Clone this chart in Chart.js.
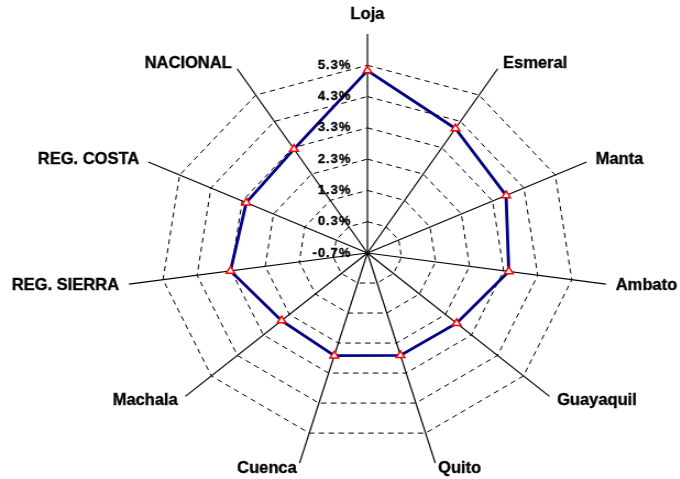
<!DOCTYPE html>
<html>
<head>
<meta charset="utf-8">
<script src="https://cdn.jsdelivr.net/npm/chart.js@4/dist/chart.umd.min.js"></script>
<style>
  html, body { margin: 0; padding: 0; background: #fff; overflow: hidden; }
  #wrap { width: 618px; height: 479px; transform: scaleX(1.1); transform-origin: 0 0; }
</style>
</head>
<body>
<div id="wrap"><canvas id="radar"></canvas></div>
<script>
// cities / regions, clockwise from the top
var categories = ['Loja', 'Esmeral', 'Manta', 'Ambato', 'Guayaquil', 'Quito',
                  'Cuenca', 'Machala', 'REG. SIERRA', 'REG. COSTA', 'NACIONAL'];
var values = [5.13, 4.03, 3.73, 3.45, 2.73, 2.71, 2.72, 2.60, 3.32, 3.17, 3.25];
var tickLabels = ['-0.7%', '0.3%', '1.3%', '2.3%', '3.3%', '4.3%', '5.3%'];

var STRETCH = 1.1; // the original plot is a bit wider than tall
var FONT = "'Liberation Sans', Arial, sans-serif";

// draws category and tick labels without the horizontal stretch
var labelPlugin = {
    id: 'labels',
    afterDraw: function (chart) {
        var ctx = chart.ctx;
        var r = chart.scales.r;
        var n = chart.data.labels.length;

        ctx.save();
        ctx.fillStyle = '#000';
        ctx.strokeStyle = '#000';
        ctx.lineWidth = 0.35;
        ctx.textBaseline = 'middle';
        ctx.font = 'bold 16.5px ' + FONT;
        for (var i = 0; i < n; i++) {
            var p = r.getPointPosition(i, r.drawingArea);
            var a = i * 2 * Math.PI / n;
            var s = Math.sin(a), c = Math.cos(a);
            var align = s > 0.05 ? 'left' : (s < -0.05 ? 'right' : 'center');
            var dy = Math.abs(s) < 0.05 ? -c * 20 : -c * 6;
            ctx.save();
            ctx.translate(p.x + s * 10 / STRETCH, p.y + dy);
            ctx.scale(1 / STRETCH, 1);
            ctx.textAlign = align;
            ctx.fillText(chart.data.labels[i], 0, 0);
            ctx.strokeText(chart.data.labels[i], 0, 0);
            ctx.restore();
        }

        ctx.font = 'bold 13px ' + FONT;
        ctx.letterSpacing = '1px';
        r.ticks.forEach(function (t) {
            if (!t.label) return;
            var y = r.yCenter - r.getDistanceFromCenterForValue(t.value);
            ctx.save();
            ctx.translate(r.xCenter - 16 / STRETCH, y);
            ctx.scale(1 / STRETCH, 1);
            ctx.textAlign = 'right';
            ctx.fillText(t.label, 0, 0);
            ctx.strokeText(t.label, 0, 0);
            ctx.restore();
        });
        ctx.restore();
    }
};

new Chart(document.getElementById('radar'), {
    type: 'radar',
    data: {
        labels: categories,
        datasets: [{
            data: values,
            borderColor: '#000080',
            borderWidth: 2.8,
            fill: false,
            tension: 0,
            pointStyle: 'triangle',
            pointRadius: 4.5,
            pointBorderWidth: 1.5,
            pointBorderColor: '#ff0000',
            pointBackgroundColor: '#e6ffff'
        }]
    },
    options: {
        responsive: true,
        maintainAspectRatio: false,
        animation: false,
        layout: { padding: { top: 34, bottom: 7, left: 62, right: 11 } },
        plugins: { legend: { display: false }, tooltip: { enabled: false } },
        scales: {
            r: {
                min: -0.7,
                max: 6.3,
                ticks: {
                    stepSize: 1,
                    display: false,
                    callback: function (v, i) { return tickLabels[i] || ''; }
                },
                pointLabels: { display: false },
                angleLines: { color: '#000', lineWidth: 1.2 },
                grid: {
                    color: function (ctx) { return ctx.index >= 7 ? 'rgba(0,0,0,0)' : '#000'; },
                    lineWidth: 1
                },
                border: { dash: [5, 4] }
            }
        }
    },
    plugins: [labelPlugin]
});
</script>
</body>
</html>
